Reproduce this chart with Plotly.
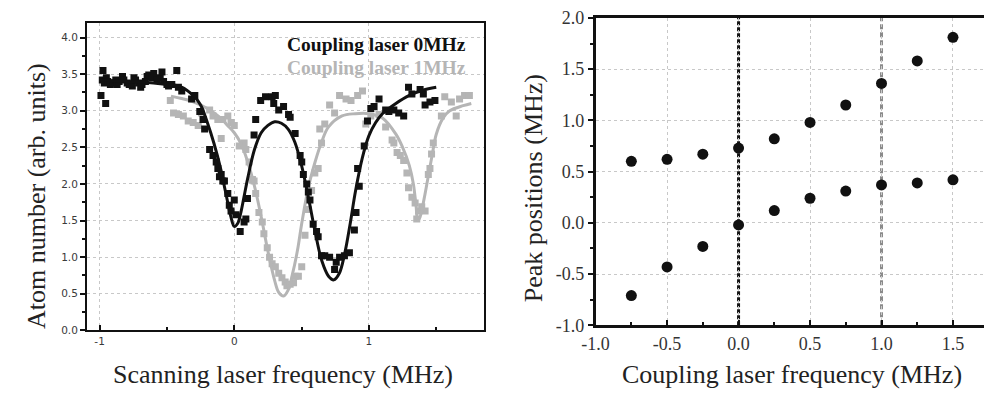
import plotly.graph_objects as go

# ---- Left panel: atom number vs scanning laser frequency ----
black_x = [-0.99, -0.98, -0.975, -0.965, -0.955, -0.95, -0.94, -0.92, -0.90, -0.88,
           -0.87, -0.855, -0.83, -0.82, -0.795, -0.78, -0.757, -0.745, -0.733, -0.71,
           -0.695, -0.685, -0.66, -0.647, -0.635, -0.61, -0.598, -0.574, -0.55, -0.537,
           -0.525, -0.50, -0.488, -0.464, -0.427, -0.415, -0.39, -0.317, -0.293, -0.256,
           -0.232, -0.22, -0.183, -0.158, -0.134, -0.122, -0.11, -0.097, -0.085, -0.073,
           -0.048, -0.037, -0.024, 0.0, 0.012, 0.044, 0.073, 0.086, 0.098, 0.147,
           0.159, 0.196, 0.232, 0.281, 0.293, 0.305, 0.33, 0.366, 0.403, 0.415,
           0.452, 0.489, 0.501, 0.513, 0.538, 0.55, 0.562, 0.586, 0.611, 0.623,
           0.648, 0.672, 0.708, 0.745, 0.757, 0.782, 0.818, 0.855, 0.892, 0.904,
           0.916, 0.928, 0.965, 0.989, 1.014, 1.038, 1.075, 1.124, 1.148, 1.185,
           1.221, 1.258, 1.294, 1.319, 1.38, 1.404, 1.417, 1.453, 1.49]
black_y = [3.21, 3.42, 3.55, 3.38, 3.10, 3.45, 3.40, 3.36, 3.38, 3.42,
           3.36, 3.40, 3.47, 3.42, 3.38, 3.36, 3.34, 3.45, 3.42, 3.38,
           3.32, 3.36, 3.40, 3.47, 3.49, 3.45, 3.51, 3.42, 3.45, 3.53,
           3.40, 3.36, 3.34, 3.36, 3.55, 3.32, 3.27, 3.16, 3.21, 2.99,
           2.88, 2.75, 2.47, 2.39, 2.30, 2.21, 2.10, 2.13, 2.04, 2.04,
           1.87, 1.71, 1.63, 1.78, 1.58, 1.35, 1.48, 1.52, 1.80, 2.67,
           2.88, 3.14, 3.19, 3.19, 3.10, 3.21, 3.01, 3.06, 2.95, 2.91,
           2.69, 2.39, 2.30, 2.13, 2.00, 1.89, 1.78, 1.45, 1.35, 1.28,
           1.02, 1.02, 1.00, 0.83, 0.93, 1.00, 1.02, 1.06, 1.37, 1.61,
           2.21, 1.97, 2.52, 2.86, 3.03, 3.06, 3.16, 3.01, 2.99, 3.01,
           2.97, 2.93, 3.32, 3.23, 3.29, 3.23, 3.08, 3.12, 3.14]

gray_x = [-0.475, -0.451, -0.415, -0.378, -0.342, -0.305, -0.268, -0.244, -0.183, -0.158,
          -0.122, -0.097, -0.085, -0.048, -0.024, 0.0, 0.037, 0.073, 0.086, 0.11,
          0.135, 0.147, 0.159, 0.183, 0.208, 0.22, 0.245, 0.262, 0.281, 0.305,
          0.33, 0.354, 0.378, 0.391, 0.415, 0.44, 0.452, 0.476, 0.501, 0.525,
          0.55, 0.574, 0.598, 0.623, 0.635, 0.648, 0.672, 0.708, 0.745, 0.782,
          0.83, 0.867, 0.916, 0.952, 0.977, 1.014, 1.075, 1.124, 1.172, 1.185,
          1.209, 1.233, 1.258, 1.282, 1.294, 1.319, 1.343, 1.355, 1.368, 1.392,
          1.417, 1.441, 1.453, 1.465, 1.478, 1.538, 1.563, 1.612, 1.648, 1.673,
          1.71, 1.746]
gray_y = [3.14, 2.97, 2.95, 2.93, 2.86, 2.84, 2.80, 2.97, 3.01, 2.93,
          2.88, 2.62, 2.88, 2.93, 2.84, 2.80, 2.52, 2.56, 2.47, 2.30,
          2.06, 2.04, 1.87, 1.61, 1.48, 1.32, 1.13, 1.00, 0.91, 0.87,
          0.78, 0.72, 0.66, 0.61, 0.63, 0.65, 0.74, 0.74, 0.87, 1.30,
          1.65, 1.91, 2.15, 2.21, 2.75, 2.56, 2.82, 3.08, 2.97, 3.21,
          3.16, 3.14, 3.21, 3.27, 2.82, 2.93, 2.95, 2.78, 2.60, 2.56,
          2.43, 2.39, 2.32, 2.15, 1.95, 1.82, 1.74, 1.52, 1.63, 1.69,
          1.63, 2.13, 2.21, 2.41, 2.56, 2.93, 3.19, 3.12, 2.93, 3.16,
          3.21, 3.21]

# fitted curves (sampled)
fit0_x = [-1.0, -0.8, -0.6, -0.5, -0.4, -0.3, -0.25, -0.2, -0.15, -0.1,
          -0.075, -0.05, -0.025, 0.0, 0.025, 0.05, 0.075, 0.1, 0.15, 0.2,
          0.25, 0.3, 0.35, 0.4, 0.45, 0.5, 0.55, 0.6, 0.65, 0.7,
          0.74, 0.78, 0.82, 0.86, 0.9, 0.95, 1.0, 1.05, 1.1, 1.2,
          1.3, 1.4, 1.5]
fit0_y = [3.42, 3.40, 3.38, 3.36, 3.33, 3.20, 3.08, 2.84, 2.55, 2.20,
          1.98, 1.76, 1.55, 1.42, 1.46, 1.62, 1.85, 2.08, 2.47, 2.70,
          2.80, 2.85, 2.83, 2.75, 2.57, 2.25, 1.82, 1.35, 0.95, 0.74,
          0.69, 0.78, 1.05, 1.45, 1.90, 2.35, 2.66, 2.84, 2.96, 3.10,
          3.21, 3.28, 3.32]

fit1_x = [-0.47, -0.4, -0.3, -0.2, -0.1, -0.05, 0.0, 0.05, 0.1, 0.15,
          0.2, 0.25, 0.3, 0.33, 0.366, 0.4, 0.43, 0.47, 0.5, 0.55,
          0.6, 0.65, 0.7, 0.8, 0.9, 1.0, 1.1, 1.2, 1.25, 1.3,
          1.33, 1.35, 1.363, 1.38, 1.41, 1.44, 1.47, 1.5, 1.55, 1.6,
          1.7, 1.76]
fit1_y = [3.20, 3.17, 3.12, 3.03, 2.90, 2.80, 2.70, 2.55, 2.30, 1.97,
          1.55, 1.08, 0.68, 0.52, 0.47, 0.55, 0.75, 1.10, 1.45, 1.95,
          2.30, 2.58, 2.78, 2.93, 2.96, 2.96, 2.90, 2.68, 2.50, 2.25,
          2.00, 1.70, 1.50, 1.55, 1.80, 2.10, 2.40, 2.68, 2.90, 3.00,
          3.07, 3.10]

left_xticks = [-1, 0, 1]
left_xticktext = ["-1", "0", "1"]
left_yticks = [0.0, 0.5, 1.0, 1.5, 2.0, 2.5, 3.0, 3.5, 4.0]
left_yticktext = ["0.0", "0.5", "1.0", "1.5", "2.0", "2.5", "3.0", "3.5", "4.0"]

# ---- Right panel: peak positions vs coupling laser frequency ----
coupling = [-0.75, -0.5, -0.25, 0.0, 0.25, 0.5, 0.75, 1.0, 1.25, 1.5]
peak_upper = [0.60, 0.62, 0.67, 0.73, 0.82, 0.98, 1.15, 1.36, 1.58, 1.81]
peak_lower = [-0.71, -0.43, -0.23, -0.02, 0.12, 0.24, 0.31, 0.37, 0.39, 0.42]
marked_frequencies = [0.0, 1.0]

right_xticks = [-1.0, -0.5, 0.0, 0.5, 1.0, 1.5]
right_xticktext = ["-1.0", "-0.5", "0.0", "0.5", "1.0", "1.5"]
right_yticks = [-1.0, -0.5, 0.0, 0.5, 1.0, 1.5, 2.0]
right_yticktext = ["-1.0", "-0.5", "0.0", "0.5", "1.0", "1.5", "2.0"]

GRAY = "#b5b5b5"
INK = "#111111"
SERIF = "Liberation Serif, Times New Roman, serif"
SANS = "DejaVu Sans, Arial, sans-serif"

fig = go.Figure()

fig.add_trace(go.Scatter(x=gray_x, y=gray_y, mode="markers", xaxis="x", yaxis="y",
                         marker=dict(symbol="square", size=7, color=GRAY)))
fig.add_trace(go.Scatter(x=fit1_x, y=fit1_y, mode="lines", xaxis="x", yaxis="y",
                         line=dict(color=GRAY, width=3, shape="spline")))
fig.add_trace(go.Scatter(x=black_x, y=black_y, mode="markers", xaxis="x", yaxis="y",
                         marker=dict(symbol="square", size=7, color=INK)))
fig.add_trace(go.Scatter(x=fit0_x, y=fit0_y, mode="lines", xaxis="x", yaxis="y",
                         line=dict(color=INK, width=3, shape="spline")))

fig.add_trace(go.Scatter(x=coupling, y=peak_upper, mode="markers", xaxis="x2", yaxis="y2",
                         marker=dict(symbol="circle", size=11, color=INK)))
fig.add_trace(go.Scatter(x=coupling, y=peak_lower, mode="markers", xaxis="x2", yaxis="y2",
                         marker=dict(symbol="circle", size=11, color=INK)))

grid = dict(showgrid=True, gridcolor="#c8c8c8", gridwidth=1, griddash="dot")

fig.update_layout(
    width=984, height=405,
    margin=dict(l=0, r=0, t=0, b=0),
    paper_bgcolor="white", plot_bgcolor="white",
    showlegend=False,
    xaxis=dict(domain=[74 / 984, 477 / 984], range=[-1.094, 1.856],
               tickvals=left_xticks, ticktext=left_xticktext,
               ticks="inside", ticklen=5, tickwidth=2, tickcolor=INK,
               minor=dict(dtick=0.5, tick0=-1, ticks="inside", ticklen=3, tickwidth=2, tickcolor=INK),
               showline=True, linecolor=INK, linewidth=2, mirror=True,
               tickfont=dict(family=SANS, size=10.5, color="#3a3a3a"),
               zeroline=False, **grid),
    yaxis=dict(domain=[1 - 337 / 405, 1 - 14 / 405], range=[0, 4.195],
               tickvals=left_yticks, ticktext=left_yticktext,
               ticks="outside", ticklen=5, tickwidth=2, tickcolor=INK,
               minor=dict(dtick=0.25, tick0=0, ticks="outside", ticklen=3, tickwidth=2, tickcolor=INK),
               showline=True, linecolor=INK, linewidth=2, mirror=True,
               tickfont=dict(family=SANS, size=10.5, color="#3a3a3a"),
               zeroline=False, **grid),
    xaxis2=dict(domain=[590 / 984, 1.0], range=[-1.0, 1.717], anchor="y2",
                tickvals=right_xticks, ticktext=right_xticktext,
                ticks="inside", ticklen=6, tickwidth=2, tickcolor=INK,
                minor=dict(dtick=0.25, tick0=-1, ticks="inside", ticklen=4, tickwidth=2, tickcolor=INK),
                showline=True, linecolor=INK, linewidth=2.5, mirror=True,
                tickfont=dict(family=SERIF, size=18, color="#333333"),
                ticklabeloverflow="allow",
                zeroline=False, **grid),
    yaxis2=dict(domain=[1 - 331.7 / 405, 1 - 8.3 / 405], range=[-1.0, 2.0], anchor="x2",
                tickvals=right_yticks, ticktext=right_yticktext,
                ticks="outside", ticklen=5, tickwidth=2, tickcolor=INK,
                minor=dict(dtick=0.25, tick0=-1, ticks="outside", ticklen=3, tickwidth=2, tickcolor=INK),
                showline=True, linecolor=INK, linewidth=2.5, mirror=False,
                tickfont=dict(family=SERIF, size=18, color="#333333"),
                ticklabeloverflow="allow",
                zeroline=False, **grid),
)

# dashed markers at the two coupling frequencies used on the left
fig.add_shape(type="line", xref="x2", yref="y2 domain", x0=marked_frequencies[0], x1=marked_frequencies[0],
              y0=0, y1=1, line=dict(color=INK, width=3, dash="4px,2px"), layer="below")
fig.add_shape(type="line", xref="x2", yref="y2 domain", x0=marked_frequencies[1], x1=marked_frequencies[1],
              y0=0, y1=1, line=dict(color="#8a8a8a", width=3, dash="5px,3px"), layer="below")

# series labels
fig.add_annotation(text="<b>Coupling laser 0MHz</b>", xref="paper", yref="paper",
                   x=461 / 984, y=1 - 36 / 405, xanchor="right", yanchor="middle", showarrow=False,
                   font=dict(family=SERIF, size=19.5, color=INK))
fig.add_annotation(text="<b>Coupling laser 1MHz</b>", xref="paper", yref="paper",
                   x=461 / 984, y=1 - 61 / 405, xanchor="right", yanchor="middle", showarrow=False,
                   font=dict(family=SERIF, size=19.5, color=GRAY))

# axis titles
fig.add_annotation(text="Scanning laser frequency (MHz)", xref="paper", yref="paper",
                   x=273 / 984, y=1 - 383 / 405, xanchor="center", yanchor="middle", showarrow=False,
                   font=dict(family=SERIF, size=26, color="#222222"))
fig.add_annotation(text="Atom number (arb. units)", xref="paper", yref="paper",
                   x=23 / 984, y=1 - 196 / 405, xanchor="center", yanchor="middle", showarrow=False,
                   textangle=-90, font=dict(family=SERIF, size=26, color="#222222"))
fig.add_annotation(text="Coupling laser frequency (MHz)", xref="paper", yref="paper",
                   x=789 / 984, y=1 - 383 / 405, xanchor="center", yanchor="middle", showarrow=False,
                   font=dict(family=SERIF, size=26, color="#222222"))
fig.add_annotation(text="Peak positions (MHz)", xref="paper", yref="paper",
                   x=527 / 984, y=1 - 188 / 405, xanchor="center", yanchor="middle", showarrow=False,
                   textangle=-90, font=dict(family=SERIF, size=26, color="#222222"))

fig.write_html("out.html")
